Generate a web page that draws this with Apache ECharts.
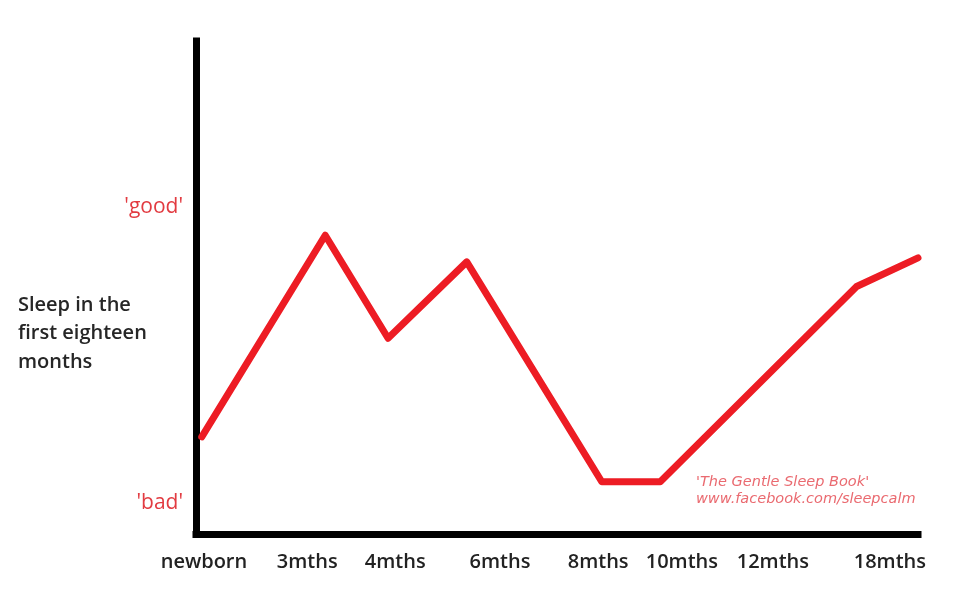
<!DOCTYPE html>
<html>
<head>
<meta charset="utf-8">
<script src="https://cdn.jsdelivr.net/npm/echarts@6/dist/echarts.min.js"></script>
<style>
html,body{margin:0;padding:0;background:#fff;}
#chart{width:959px;height:600px;}
</style>
</head>
<body>
<div id="chart"></div>
<script>
// Timeline position (0-100) and sleep quality (0-100)
var lineX = [0.8, 17.9, 26.6, 37.5, 56.2, 64.3, 91.5, 100];
var lineY = [19.7, 60.6, 39.7, 55.2, 10.6, 10.6, 50.2, 56.0];

var xTickLabels = ['newborn', '3mths', '4mths', '6mths', '8mths', '10mths', '12mths', '18mths'];
var xTickPos = [1.1, 15.4, 27.6, 42.1, 55.7, 67.3, 79.9, 96.1];

var yTickLabels = ["'bad'", "'good'"];
var yTickPos = [6.3, 66.3];

var yTitle = 'Sleep in the\nfirst eighteen\nmonths';
var creditLines = ["'The Gentle Sleep Book'", 'www.facebook.com/sleepcalm'];

var seriesData = lineX.map(function (x, i) { return [x, lineY[i]]; });

function lookup(posArr, labelArr, v) {
  for (var i = 0; i < posArr.length; i++) {
    if (Math.abs(posArr[i] - v) < 1e-6) return labelArr[i];
  }
  return '';
}

var chart = echarts.init(document.getElementById('chart'), null, {renderer: 'canvas'});
chart.setOption({
  animation: false,
  backgroundColor: '#ffffff',
  title: [{
    text: yTitle,
    left: 13,
    top: 286,
    textStyle: {
      fontFamily: 'Open Sans',
      fontSize: 20,
      fontWeight: 600,
      color: '#262626',
      lineHeight: 28.5
    }
  }, {
    text: creditLines.join('\n'),
    left: 691,
    top: 469,
    textStyle: {
      fontFamily: 'DejaVu Sans',
      fontSize: 14.5,
      fontStyle: 'italic',
      fontWeight: 200,
      color: '#ea6a70',
      lineHeight: 17
    }
  }],
  grid: {left: 196, right: 41, top: 41, bottom: 66, containLabel: false},
  xAxis: {
    type: 'value',
    min: 0,
    max: 100,
    axisLine: {show: true, onZero: false, lineStyle: {color: '#000', width: 7, cap: 'square'}},
    axisTick: {show: false},
    splitLine: {show: false},
    axisLabel: {
      customValues: xTickPos,
      formatter: function (v) { return lookup(xTickPos, xTickLabels, v); },
      margin: 18,
      fontFamily: 'Open Sans',
      fontSize: 20,
      fontWeight: 600,
      color: '#222222'
    }
  },
  yAxis: {
    type: 'value',
    min: 0,
    max: 100,
    axisLine: {show: true, onZero: false, lineStyle: {color: '#000', width: 7, cap: 'square'}},
    axisTick: {show: false},
    splitLine: {show: false},
    axisLabel: {
      customValues: yTickPos,
      formatter: function (v) { return lookup(yTickPos, yTickLabels, v); },
      margin: 13,
      fontFamily: 'Open Sans',
      fontSize: 21,
      color: '#e23b41'
    }
  },
  series: [{
    type: 'line',
    data: seriesData,
    symbol: 'none',
    lineStyle: {color: '#ED1C24', width: 7, join: 'round', cap: 'round'}
  }]
});
</script>
</body>
</html>
